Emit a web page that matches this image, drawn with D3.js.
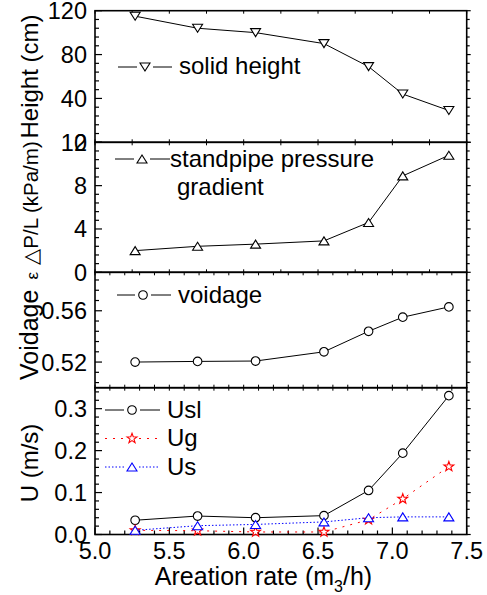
<!DOCTYPE html>
<html><head><meta charset="utf-8">
<script src="https://cdn.jsdelivr.net/npm/d3@7"></script>
<style>body{margin:0;background:#fff}svg{display:block;font-family:"Liberation Sans",Arial,sans-serif}</style>
</head><body><svg id="c" width="487" height="595"></svg>
<script>
const aerationRate = [5.27, 5.69, 6.08, 6.54, 6.84, 7.07, 7.38];
const solidHeight = [115, 104, 100, 90, 69, 44, 29];
const pressureGradient = [2.0, 2.4, 2.6, 2.9, 4.6, 8.9, 10.8];
const voidage = [0.520, 0.5205, 0.5208, 0.528, 0.544, 0.555, 0.563];
const Usl = [0.034, 0.044, 0.040, 0.045, 0.105, 0.194, 0.331];
const Ug = [0.010, 0.009, 0.006, 0.006, 0.035, 0.085, 0.162];
const Us = [0.010, 0.021, 0.024, 0.030, 0.040, 0.042, 0.042];
const xTicks = [5.0, 5.5, 6.0, 6.5, 7.0, 7.5];
const heightTicks = [0, 40, 80, 120];
const pressureTicks = [0, 4, 8, 12];
const voidageTicks = [0.52, 0.56];
const uTicks = [0.0, 0.1, 0.2, 0.3];

const svg = d3.select("#c");
const L = 95, R = 466.7;
const x = d3.scaleLinear().domain([5.0, 7.5]).range([L, R]);

const shapes = {
  down: "M-5,-4L5,-4L0,4Z",
  up: "M-5,4L5,4L0,-4Z",
  circle: d3.symbol(d3.symbolCircle, Math.PI * 4.3 * 4.3)(),
  star: (() => { const p = []; for (let i = 0; i < 10; i++) { const r = i % 2 ? 2.1 : 5.2; const a = -Math.PI / 2 + i * Math.PI / 5; p.push([r * Math.cos(a), r * Math.sin(a)]); } return "M" + p.map(d => d.join(",")).join("L") + "Z"; })()
};

const panels = [
  { top: 10.7, bottom: 142.3, domain: [0, 120], ticks: heightTicks, minor: 8, fmt: d3.format("d"), tb: 0.25 },
  { top: 142.3, bottom: 272.3, domain: [0, 12], ticks: pressureTicks, minor: 0.8, fmt: d3.format("d"), tb: 0.25 },
  { top: 272.3, bottom: 387.7, domain: [0.50, 0.59], ticks: voidageTicks, minor: 0.008, fmt: d3.format(".2f"), tb: 0.1 },
  { top: 387.7, bottom: 534.5, domain: [0, 0.35], ticks: uTicks, minor: 0.02, fmt: d3.format(".1f"), tb: 0.1 }
];
panels.forEach(p => { p.y = d3.scaleLinear().domain(p.domain).range([p.bottom, p.top]); });

function minorVals(p) {
  const out = [];
  const base = p.ticks[0];
  for (let k = -50; k <= 200; k++) {
    const v = +(base + k * p.minor).toFixed(6);
    if (v >= p.domain[0] - 1e-9 && v <= p.domain[1] + 1e-9) out.push(v);
  }
  return out;
}

panels.forEach((p, i) => {
  const g = svg.append("g");
  const mv = minorVals(p);
  const isMajor = v => p.ticks.some(t => Math.abs(t - v) < 1e-6);
  g.selectAll(null).data(mv).join("line")
    .attr("x1", L).attr("x2", d => L + (isMajor(d) ? 7 : 4))
    .attr("y1", d => p.y(d)).attr("y2", d => p.y(d))
    .attr("stroke", "#000").attr("stroke-width", 1.2);
  g.selectAll(null).data(mv).join("line")
    .attr("x1", R).attr("x2", d => R + (isMajor(d) ? 4 : 3))
    .attr("y1", d => p.y(d)).attr("y2", d => p.y(d))
    .attr("stroke", "#000").attr("stroke-width", 1.2);
  const xt = d3.range(5.0, 7.5001, i === 3 ? 0.1 : p.tb);
  g.selectAll(null).data(xt).join("line")
    .attr("x1", d => x(d)).attr("x2", d => x(d))
    .attr("y1", p.top).attr("y2", p.top + 3)
    .attr("stroke", "#000").attr("stroke-width", 1);
  if (i < 3) {
    g.selectAll(null).data(xt).join("line")
      .attr("x1", d => x(d)).attr("x2", d => x(d))
      .attr("y1", p.bottom).attr("y2", p.bottom - 3)
      .attr("stroke", "#000").attr("stroke-width", 1);
  }
  g.selectAll(null).data(p.ticks).join("text")
    .attr("x", 87).attr("y", d => p.y(d)).attr("dy", "0.36em")
    .attr("text-anchor", "end").attr("font-size", 23.5).text(d => p.fmt(d));
  g.append("rect").attr("x", L).attr("y", p.top).attr("width", R - L).attr("height", p.bottom - p.top)
    .attr("fill", "none").attr("stroke", "#000").attr("stroke-width", 1.6);
});

const bp = panels[3];
const xMinor = d3.range(0, 26).map(k => +(5.0 + k * 0.1).toFixed(2));
svg.append("g").selectAll("line").data(xMinor).join("line")
  .attr("x1", d => x(d)).attr("x2", d => x(d))
  .attr("y1", bp.bottom).attr("y2", d => bp.bottom - (xTicks.some(t => Math.abs(t - d) < 1e-6) ? 7 : 4))
  .attr("stroke", "#000").attr("stroke-width", 1.2);
svg.append("g").selectAll("text").data(xTicks).join("text")
  .attr("x", d => x(d)).attr("y", 558.5).attr("text-anchor", "middle").attr("font-size", 23.5)
  .text(d => d3.format(".1f")(d));
const xt = svg.append("text").attr("x", 263.5).attr("y", 585).attr("text-anchor", "middle").attr("font-size", 25);
xt.append("tspan").text("Areation rate (m");
xt.append("tspan").attr("font-size", 16).attr("dy", 7).text("3");
xt.append("tspan").attr("dy", -7).text("/h)");

function yTitle(text, yc, size, extra, gap) {
  const t = svg.append("text").attr("transform", `translate(38,${yc}) rotate(-90)`)
    .attr("text-anchor", "middle").attr("font-size", size);
  t.append("tspan").text(text);
  if (extra) t.append("tspan").attr("font-size", 17).attr("dx", gap).text(extra);
}
yTitle("Height (cm)", 76.5, 24);
yTitle("\u25B3P/L (kPa/m)", 203, 20.5);
yTitle("Voidage", 326, 25, "\u03B5", 10);
yTitle("U (m/s)", 463, 24);

function series(p, vals, shape, color, dash) {
  const pts = aerationRate.map((a, i) => [x(a), p.y(vals[i])]);
  svg.append("path").attr("d", d3.line()(pts)).attr("fill", "none")
    .attr("stroke", color).attr("stroke-width", 1).attr("stroke-dasharray", dash || null);
  svg.append("g").selectAll("path").data(pts).join("path")
    .attr("transform", d => `translate(${d[0]},${d[1]})`).attr("d", shapes[shape])
    .attr("fill", "#fff").attr("stroke", color).attr("stroke-width", 1.1);
}
series(panels[0], solidHeight, "down", "#000");
series(panels[1], pressureGradient, "up", "#000");
series(panels[2], voidage, "circle", "#000");
series(panels[3], Usl, "circle", "#000");
series(panels[3], Ug, "star", "#f00", "2,6");
series(panels[3], Us, "up", "#00f", "1.5,2");

function legend(x1, x2, xm, y, shape, color, dash, gap) {
  svg.append("line").attr("x1", x1).attr("x2", xm - gap).attr("y1", y).attr("y2", y)
    .attr("stroke", color).attr("stroke-dasharray", dash || null);
  svg.append("line").attr("x1", xm + gap).attr("x2", x2).attr("y1", y).attr("y2", y)
    .attr("stroke", color).attr("stroke-dasharray", dash || null);
  svg.append("path").attr("transform", `translate(${xm},${y})`).attr("d", shapes[shape])
    .attr("fill", "#fff").attr("stroke", color).attr("stroke-width", 1.1);
}
function ltext(xp, yp, s) {
  svg.append("text").attr("x", xp).attr("y", yp).attr("font-size", 24).text(s);
}
legend(118, 172, 145, 67, "down", "#000", null, 8);
ltext(179, 74, "solid height");
legend(115, 170, 142, 159, "up", "#000", null, 8);
ltext(170, 166.5, "standpipe pressure");
ltext(177, 195, "gradient");
legend(117, 171, 143, 295, "circle", "#000", null, 8);
ltext(178, 302.5, "voidage");
legend(105, 160, 132, 410, "circle", "#000", null, 8);
ltext(167, 417.5, "Usl");
legend(105, 160, 132, 438.5, "star", "#f00", "2,6", 7);
ltext(167, 446, "Ug");
legend(105, 160, 132, 467, "up", "#00f", "1.5,2", 7);
ltext(167, 475, "Us");
</script></body></html>
